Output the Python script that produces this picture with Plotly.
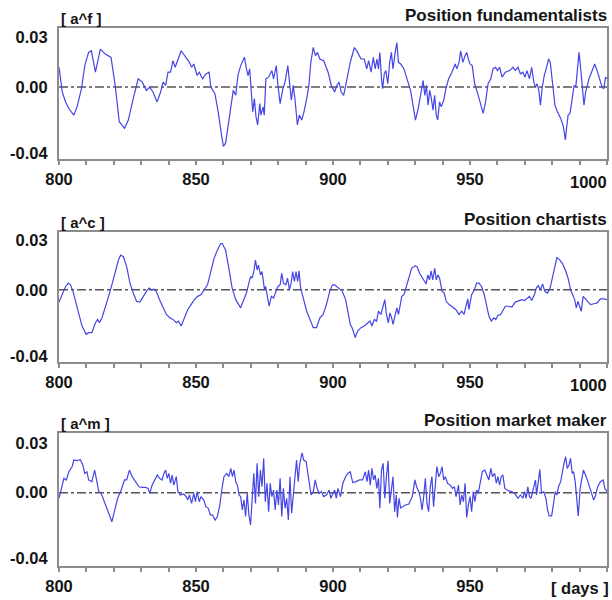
import plotly.graph_objects as go

# ---------------- data ----------------
f_days = [800, 801.2, 802.4, 803.6, 805.4, 806.6, 808.2, 809.4, 810.8, 811.8, 812.4, 813.3, 814.2, 815.1, 816.9, 819,
          820.5, 822, 823.9, 825.3, 827.1, 828.9, 830.4, 831.9, 833.1, 834.3, 835.8, 837.1, 838, 838.9, 839.8, 840.7,
          841.6, 842.4, 844.6, 846.4, 847.6, 848.4, 849.2, 850.4, 851.2, 852.4, 853.6, 854.8, 855.4, 856.9, 858.1,
          859.3, 860, 860.8, 861.7, 862.7, 863.6, 864.5, 865.3, 866.3, 867.7, 868.4, 869, 869.6, 870.1, 870.7, 871.3,
          871.9, 872.5, 873.3, 873.7, 874.5, 874.9, 875.5, 876.5, 877.7, 878.3, 879.3, 879.9, 880.7, 881.7, 882.5,
          883.5, 884.3, 884.8, 885.5, 886.1, 887, 887.7, 888.6, 889.4, 890.4, 891.2, 891.9, 892.8, 893.6, 894.3,
          895.2, 896.6, 898.2, 899.4, 900.6, 901.4, 902.2, 903, 903.9, 904.8, 906.3, 907.8, 909, 910.2, 911.4, 912.3,
          913, 913.9, 914.7, 915.4, 916, 916.6, 917.1, 917.7, 918.1, 918.7, 919.3, 920, 920.7, 921.3, 921.9, 922.7,
          923.3, 923.9, 924.7, 925.9, 927.1, 928.3, 929.2, 930.1, 931.1, 931.9, 932.9, 933.5, 934.1, 934.7, 935.3,
          935.9, 936.5, 937.1, 937.7, 938.2, 938.9, 939.5, 940.4, 941.2, 942.2, 943.4, 944.6, 945.2, 946, 946.6,
          947.4, 948.2, 948.8, 949.4, 950, 950.8, 951.7, 953, 954, 954.8, 955.7, 956.6, 957.6, 958.4, 959.3, 960,
          960.8, 961.7, 962.9, 964.5, 965.7, 966.5, 967.5, 968.4, 969.3, 970.1, 970.8, 971.7, 972.5, 973.3, 973.9,
          974.5, 975.1, 975.7, 976.3, 977.1, 978.1, 978.7, 979.3, 980.1, 981, 981.9, 983.1, 984.1, 984.8, 985.3,
          985.8, 986.5, 987.3, 988, 988.6, 989.2, 989.8, 990.4, 991, 991.6, 992.2, 993.4, 994.6, 995.5, 996.4,
          997.3, 998.2, 998.8, 999.5, 1000]
f_vals = [0.0121, -0.003, -0.009, -0.013, -0.017, -0.012, -0.001, 0.013, 0.021, 0.022, 0.017, 0.009, 0.016, 0.023,
          0.020, 0.018, 0.001, -0.021, -0.025, -0.020, -0.007, 0.005, 0.003, -0.002, 0.000, -0.003, -0.009, -0.003,
          0.003, 0.001, 0.009, 0.009, 0.016, 0.012, 0.022, 0.018, 0.015, 0.012, 0.014, 0.007, 0.009, 0.005, 0.008,
          0.009, 0.000, -0.004, -0.015, -0.029, -0.036, -0.034, -0.023, -0.013, -0.002, -0.005, 0.007, 0.013, 0.018,
          0.011, 0.007, 0.011, 0.001, -0.015, -0.007, -0.018, -0.023, -0.010, -0.017, -0.012, -0.017, 0.005, 0.006,
          0.010, 0.005, 0.013, 0.001, -0.010, -0.001, 0.003, 0.013, 0.002, -0.008, 0.001, -0.007, -0.023, -0.017,
          -0.020, -0.015, -0.007, 0.001, 0.015, 0.024, 0.019, 0.021, 0.017, 0.016, 0.009, 0.001, -0.003, 0.001,
          0.003, -0.003, -0.005, 0.002, 0.015, 0.024, 0.021, 0.017, 0.017, 0.011, 0.016, 0.009, 0.018, 0.011, 0.017,
          0.011, 0.021, 0.005, -0.001, 0.008, 0.010, 0.002, 0.015, 0.021, 0.011, 0.021, 0.027, 0.015, 0.014, 0.011,
          0.005, -0.002, -0.011, -0.020, -0.013, -0.006, 0.004, -0.005, 0.001, -0.011, -0.002, -0.007, -0.014,
          -0.005, -0.017, -0.020, -0.009, -0.012, -0.008, -0.001, 0.005, 0.009, 0.014, 0.011, 0.015, 0.022, 0.015,
          0.019, 0.021, 0.017, 0.014, 0.013, 0.002, -0.005, -0.012, -0.016, -0.009, 0.002, 0.005, 0.011, 0.012,
          0.010, 0.012, 0.006, 0.009, 0.010, 0.012, 0.010, 0.012, 0.008, 0.009, 0.006, 0.010, 0.005, 0.012, 0.003,
          0.000, 0.002, -0.002, -0.011, -0.001, 0.007, 0.013, 0.017, 0.015, 0.003, -0.011, -0.015, -0.019, -0.024,
          -0.032, -0.024, -0.017, -0.016, -0.008, 0.001, 0.000, 0.011, 0.021, 0.011, -0.003, -0.011, -0.003, 0.005,
          0.010, 0.014, 0.010, 0.005, 0.000, -0.001, 0.006, 0.005]

c_days = [800, 801.2, 802.4, 803.4, 804.2, 805.1, 806, 807.2, 808.4, 809.9, 810.8, 812, 813.3, 814.1, 814.7, 815.7,
          816.9, 818.1, 819.3, 820.5, 821.7, 822.5, 823.5, 824.7, 825.9, 827.1, 828.3, 829.5, 830.7, 831.9, 832.9,
          833.7, 834.7, 835.5, 836.7, 838, 839.2, 840.4, 841.6, 842.8, 843.6, 844.6, 845.8, 847, 848.2, 849.4, 850.6,
          851.8, 853, 854.2, 855.4, 856.6, 857.8, 859, 859.6, 860.8, 862, 863.2, 864.5, 865.3, 866.3, 867.2, 868.4,
          869.3, 869.9, 870.5, 871.1, 871.7, 872.3, 872.8, 873.5, 874.1, 875, 875.4, 875.9, 876.7, 877.5, 878.3,
          879.2, 879.9, 880.7, 881.3, 881.9, 882.8, 883.4, 884.1, 884.7, 885.3, 885.9, 886.5, 887.1, 887.6, 888.2,
          889.2, 890.4, 891.6, 892.8, 894, 895.2, 896.4, 897.6, 898.8, 899.8, 900.6, 901.8, 903.4, 904.6, 905.4,
          906.3, 907.2, 908.1, 909, 910.2, 911.4, 912.7, 913.5, 914.2, 915.1, 915.9, 916.6, 917.5, 918.1, 918.9,
          919.5, 920.2, 920.8, 921.4, 921.9, 922.7, 923.3, 923.9, 924.5, 925.1, 925.9, 926.7, 927.7, 928.7, 929.9,
          930.7, 931.6, 932.8, 934, 934.6, 935.2, 935.8, 936.4, 937.1, 937.7, 938.3, 938.9, 939.8, 940.6, 941.3,
          942.4, 943.6, 944.8, 946, 947, 947.8, 948.4, 949.2, 949.6, 950.6, 951.6, 952.4, 953.3, 954.2, 955.2, 956,
          956.9, 957.8, 958.7, 959.4, 960.2, 961.2, 962, 962.9, 964, 965.3, 966.5, 967.7, 968.9, 969.9, 970.8,
          971.7, 972.5, 973.5, 974.2, 974.9, 975.7, 976.5, 977.3, 978.3, 979.3, 980.1, 981, 981.7, 982.8, 983.7,
          984.9, 985.8, 986.7, 987.6, 988.2, 988.8, 989.4, 990, 990.6, 991.3, 991.9, 992.8, 994, 995.2, 996.4,
          997.6, 998.8, 1000]
c_vals = [-0.0075, -0.003, 0.002, 0.004, 0.003, -0.001, -0.007, -0.015, -0.022, -0.027, -0.026, -0.026, -0.020,
          -0.018, -0.020, -0.017, -0.011, -0.004, 0.003, 0.011, 0.018, 0.021, 0.020, 0.014, 0.004, -0.002, -0.007,
          -0.0075, -0.004, -0.001, 0.001, 0.000, 0.0004, -0.001, -0.006, -0.011, -0.015, -0.017, -0.018, -0.020,
          -0.019, -0.022, -0.017, -0.012, -0.009, -0.006, -0.004, -0.003, 0.000, 0.003, 0.011, 0.019, 0.024, 0.028,
          0.028, 0.024, 0.013, 0.001, -0.006, -0.008, -0.011, -0.007, -0.002, 0.004, 0.008, 0.007, 0.011, 0.018,
          0.012, 0.015, 0.009, 0.011, 0.000, 0.002, -0.003, -0.010, -0.004, -0.005, -0.001, 0.002, 0.003, 0.010,
          0.004, 0.003, 0.007, 0.000, 0.004, 0.011, 0.005, 0.011, 0.005, 0.0115, 0.001, -0.006, -0.013, -0.018,
          -0.023, -0.023, -0.017, -0.015, -0.009, -0.001, 0.003, 0.003, 0.0015, -0.001, -0.006, -0.014, -0.021,
          -0.024, -0.029, -0.025, -0.023, -0.022, -0.020, -0.019, -0.022, -0.018, -0.019, -0.013, -0.015, -0.011,
          -0.006, -0.015, -0.020, -0.014, -0.017, -0.021, -0.015, -0.011, -0.015, -0.008, -0.004, -0.003, 0.002,
          0.007, 0.013, 0.0145, 0.014, 0.010, 0.007, 0.0035, 0.009, 0.006, 0.0115, 0.006, 0.013, 0.006, 0.009,
          0.007, -0.001, -0.002, -0.007, -0.009, -0.0105, -0.012, -0.015, -0.013, -0.015, -0.010, -0.0055, -0.012,
          -0.003, 0.000, 0.004, 0.004, 0.002, -0.003, -0.010, -0.016, -0.019, -0.017, -0.018, -0.0155, -0.015,
          -0.013, -0.010, -0.010, -0.0105, -0.0075, -0.0065, -0.006, -0.0065, -0.0055, -0.004, -0.0065, -0.003,
          0.001, 0.0025, 0.000, 0.0035, -0.001, -0.002, 0.0015, 0.007, 0.015, 0.0195, 0.018, 0.016, 0.0115, 0.007,
          0.000, -0.003, -0.006, -0.011, -0.007, -0.010, -0.013, -0.004, -0.005, -0.007, -0.009, -0.0085, -0.008,
          -0.0055, -0.0055, -0.006]

m_days = [800, 801, 801.8, 802.7, 803.6, 804.8, 805.4, 806.6, 807.8, 808.7, 809.4, 810.2, 810.8, 812, 813, 813.6,
          814.5, 815.4, 816.6, 817.8, 819.3, 820.2, 821.4, 822.7, 823.9, 824.7, 825.7, 826.7, 828, 829.2, 830.4,
          831.6, 832.5, 833.1, 834, 834.9, 835.9, 836.7, 837.6, 838.3, 838.9, 839.5, 840.1, 840.7, 841.3, 841.9,
          842.8, 843.4, 844.3, 845.5, 846.4, 847, 847.6, 848.4, 849.2, 849.8, 850.4, 851.2, 851.8, 852.8, 853.6,
          854.5, 855.2, 856, 857, 857.8, 858.7, 859.4, 860.2, 861.2, 862, 862.7, 863.3, 863.9, 864.5, 865.1, 865.7,
          866.3, 866.9, 867.5, 868.1, 868.7, 869.3, 869.9, 870.5, 871.1, 871.7, 872.3, 872.9, 873.5, 874.1, 874.7,
          875.3, 875.9, 876.5, 877.1, 877.7, 878.3, 878.9, 879.5, 880.1, 880.7, 881.3, 881.9, 882.5, 883.1, 883.7,
          884.3, 884.9, 885.5, 886.1, 886.7, 887.3, 887.8, 888.7, 889.3, 890.2, 890.8, 891.4, 892, 892.8, 893.5,
          894.2, 894.9, 895.8, 896.6, 897.6, 898.6, 899.2, 900, 900.6, 901.2, 901.8, 902.7, 903.6, 904.6, 905.4,
          906.3, 907.2, 908.4, 909.6, 910.8, 911.8, 912.4, 913, 913.6, 914.2, 914.8, 915.4, 916, 916.6, 917.1,
          917.7, 918.3, 918.9, 919.5, 920.1, 920.7, 921.3, 921.9, 922.5, 923.1, 923.5, 924.1, 924.7, 925.3, 926.5,
          927.7, 928.9, 929.9, 930.5, 931.3, 931.9, 932.5, 933.1, 933.7, 934.3, 934.9, 935.5, 936.1, 936.7, 937.3,
          937.9, 938.6, 939.2, 939.8, 940.4, 941, 941.8, 942.8, 943.6, 944.3, 944.9, 945.8, 946.4, 947, 947.6,
          948.2, 948.8, 949.4, 950, 950.6, 951.2, 951.8, 952.4, 953, 953.6, 954.5, 955.4, 956.3, 956.9, 957.6,
          958.2, 959, 959.6, 960.2, 960.8, 961.4, 962, 962.7, 963.9, 965.1, 966.3, 967.5, 968.4, 969.3, 969.9,
          970.5, 971.1, 971.7, 972.3, 973.3, 973.9, 974.3, 974.9, 975.5, 976.1, 976.9, 977.7, 978.3, 978.9, 979.8,
          980.5, 981.1, 981.7, 982.3, 983.1, 983.7, 984.3, 984.9, 985.5, 986.1, 986.7, 987.3, 987.8, 988.4, 989,
          989.5, 990.2, 990.8, 991.4, 992.4, 993.3, 994.2, 995.1, 995.7, 996.6, 997.6, 998.6, 999.2, 1000]
m_vals = [-0.0034, 0.0026, 0.0087, 0.0077, 0.0127, 0.0158, 0.0198, 0.0194, 0.020, 0.0168, 0.0117, 0.0127, 0.0077,
          0.0067, 0.0137, 0.0087, 0.0006, -0.0004, -0.0055, -0.0115, -0.0176, -0.0115, -0.0034, 0.0016, 0.0077,
          0.0077, 0.0137, 0.0097, 0.0067, 0.0036, 0.0032, 0.0032, 0.0026, -0.0004, 0.0046, 0.0077, 0.0107, 0.0087,
          0.0077, 0.0117, 0.0137, 0.0087, 0.0117, 0.0057, 0.0107, 0.0046, 0.0097, 0.0006, -0.0014, -0.0008,
          -0.0024, -0.0044, -0.0014, -0.0065, -0.0004, -0.0055, 0.0006, -0.0055, -0.0024, -0.0044, -0.0085,
          -0.0095, -0.0135, -0.0135, -0.0166, -0.0145, -0.0075, 0.0016, 0.0097, 0.0117, 0.0097, 0.0147, 0.0097,
          0.0137, 0.0067, 0.0046, -0.0014, -0.0024, -0.0105, -0.0044, -0.0145, -0.0004, -0.0135, -0.0196, -0.0024,
          0.0117, -0.0065, 0.0178, -0.0024, 0.0137, 0.0036, 0.0208, -0.0055, 0.0057, -0.0115, 0.0057, -0.0024,
          0.0016, -0.0105, 0.0016, -0.0075, 0.0087, -0.0145, 0.0026, -0.0095, -0.0034, -0.0166, 0.0097, -0.0125,
          -0.0004, 0.0117, 0.0198, 0.0067, 0.0168, 0.0242, 0.0198, 0.0188, 0.0127, 0.0046, -0.0014, 0.0006, 0.0077,
          0.0026, -0.0004, 0.0006, -0.0024, -0.0014, 0.0016, -0.0034, -0.0004, 0.0016, -0.0034, 0.0026, -0.0024,
          0.0057, 0.0097, 0.0117, 0.0127, 0.0061, 0.0067, 0.0077, 0.0077, 0.0127, 0.0067, 0.0137, 0.0046, 0.0147,
          0.0077, 0.0107, 0.0026, 0.0087, -0.0095, 0.0137, 0.0178, -0.0034, 0.0097, 0.0194, -0.0065, 0.0006,
          0.0097, -0.0115, -0.0014, -0.015, -0.0034, -0.0095, -0.0085, -0.0075, -0.0069, -0.0024, 0.0077, 0.0036,
          0.0006, -0.0034, -0.0105, -0.0024, 0.0087, -0.0065, -0.0115, 0.0036, 0.0097, -0.0085, 0.0057, 0.0158,
          0.0097, 0.0117, 0.0158, 0.0077, 0.0097, 0.0057, 0.0046, 0.0026, 0.0036, -0.0024, 0.0046, -0.0075,
          -0.0014, -0.0055, 0.0057, -0.015, -0.0075, -0.0024, -0.0115, 0.0006, -0.0055, 0.0016, -0.0004, 0.0046,
          0.0127, 0.0137, 0.0097, 0.0077, 0.0147, 0.0097, 0.0117, 0.0057, 0.0097, 0.0046, 0.0097, 0.0107, 0.0026,
          0.0012, 0.0006, -0.0004, -0.0034, -0.0014, -0.0034, 0.0006, -0.0034, 0.0036, -0.0024, -0.0034, 0.0036,
          0.0077, -0.0014, 0.0077, 0.0141, -0.0004, 0.0006, -0.0034, -0.0105, -0.0141, -0.0141, -0.0065, 0.0006,
          -0.0014, 0.0036, 0.0067, 0.0127, 0.0178, 0.0218, 0.0147, 0.0168, 0.0208, 0.0117, 0.0127, 0.0067,
          -0.0024, -0.0141, 0.0026, 0.0097, 0.0137, 0.0097, 0.0057, 0.0006, -0.0044, -0.0024, 0.0036, 0.0067,
          0.0077, 0.0026, 0.0006]

x_tick_vals = list(range(800, 1001, 10))
x_label_vals = [800, 850, 900, 950]
y_tick_vals = [0.03, 0.0, -0.04]
y_tick_text = ["0.03", "0.00", "-0.04"]
units = ["[ a^f ]", "[ a^c ]", "[ a^m ]"]
titles = ["Position fundamentalists", "Position chartists", "Position market maker"]
series = [(f_days, f_vals), (c_days, c_vals), (m_days, m_vals)]

# ---------------- layout helpers ----------------
W, H = 612, 600
X0, X1 = 59, 607
panels = [  # (top px, bottom px, y range)
    (28, 159, [-0.0436, 0.0358]),
    (232, 362, [-0.0438, 0.0350]),
    (433, 566, [-0.0445, 0.0362]),
]
FONT = "Liberation Sans, Arial, sans-serif"
LINE = "#4545e6"
FRAME = "#8c8c8c"
TXT = "#151515"
FS = 16.5

fig = go.Figure()
annotations = []
shapes = []
layout = dict(width=W, height=H, margin=dict(l=0, r=0, t=0, b=0, autoexpand=False),
              paper_bgcolor="white", plot_bgcolor="white", showlegend=False)

for i, ((top, bot, yr), (xd, yv)) in enumerate(zip(panels, series)):
    n = "" if i == 0 else str(i + 1)
    fig.add_trace(go.Scatter(x=xd, y=yv, mode="lines", xaxis="x" + n, yaxis="y" + n,
                             line=dict(color=LINE, width=1.2), hoverinfo="skip"))
    ticktext = [("<b>%d</b>" % v) if (v in x_label_vals) else "" for v in x_tick_vals]
    layout["xaxis" + n] = dict(
        domain=[X0 / W, X1 / W], anchor="y" + n, range=[800, 1000], automargin=False,
        tickmode="array", tickvals=x_tick_vals, ticktext=ticktext,
        ticks="outside", ticklen=4, tickwidth=1.5, tickcolor=FRAME,
        showline=True, linecolor=FRAME, linewidth=2, mirror=True,
        showgrid=False, zeroline=False,
        tickfont=dict(family=FONT, size=FS, color=TXT),
    )
    layout["yaxis" + n] = dict(
        domain=[1 - bot / H, 1 - top / H], anchor="x" + n, range=yr, automargin=False,
        tickmode="array", tickvals=y_tick_vals, ticktext=["<b>%s</b>" % t for t in y_tick_text],
        ticks="outside", ticklen=6, tickcolor="rgba(0,0,0,0)",
        showline=True, linecolor=FRAME, linewidth=2, mirror=True,
        showgrid=False, zeroline=False,
        tickfont=dict(family=FONT, size=FS, color=TXT),
    )
    shapes.append(dict(type="line", xref="x" + n, yref="y" + n, x0=800, x1=1000, y0=0, y1=0,
                       line=dict(color="#555555", width=1.5, dash="dashdot"), layer="below"))
    annotations.append(dict(text="<b>" + units[i] + "</b>", xref="paper", yref="paper",
                            x=X0 / W, y=1 - (top - 10) / H, xanchor="left", yanchor="middle",
                            showarrow=False, font=dict(family=FONT, size=15, color=TXT)))
    annotations.append(dict(text="<b>" + titles[i] + "</b>", xref="paper", yref="paper",
                            x=X1 / W, y=1 - (top - 13) / H, xanchor="right", yanchor="middle",
                            xshift=2, showarrow=False, font=dict(family=FONT, size=17, color=TXT)))
    if i < 2:
        annotations.append(dict(text="<b>1000</b>", xref="paper", yref="paper",
                                x=X1 / W, y=1 - (bot + 23) / H, xanchor="right", yanchor="middle",
                                xshift=2, showarrow=False, font=dict(family=FONT, size=FS, color=TXT)))
    else:
        annotations.append(dict(text="<b>[ days ]</b>", xref="paper", yref="paper",
                                x=(X1 + 4) / W, y=1 - (bot + 22) / H, xanchor="right", yanchor="middle",
                                showarrow=False, font=dict(family=FONT, size=FS, color=TXT)))

layout["annotations"] = annotations
layout["shapes"] = shapes
fig.update_layout(**layout)
fig.write_html("out.html")
